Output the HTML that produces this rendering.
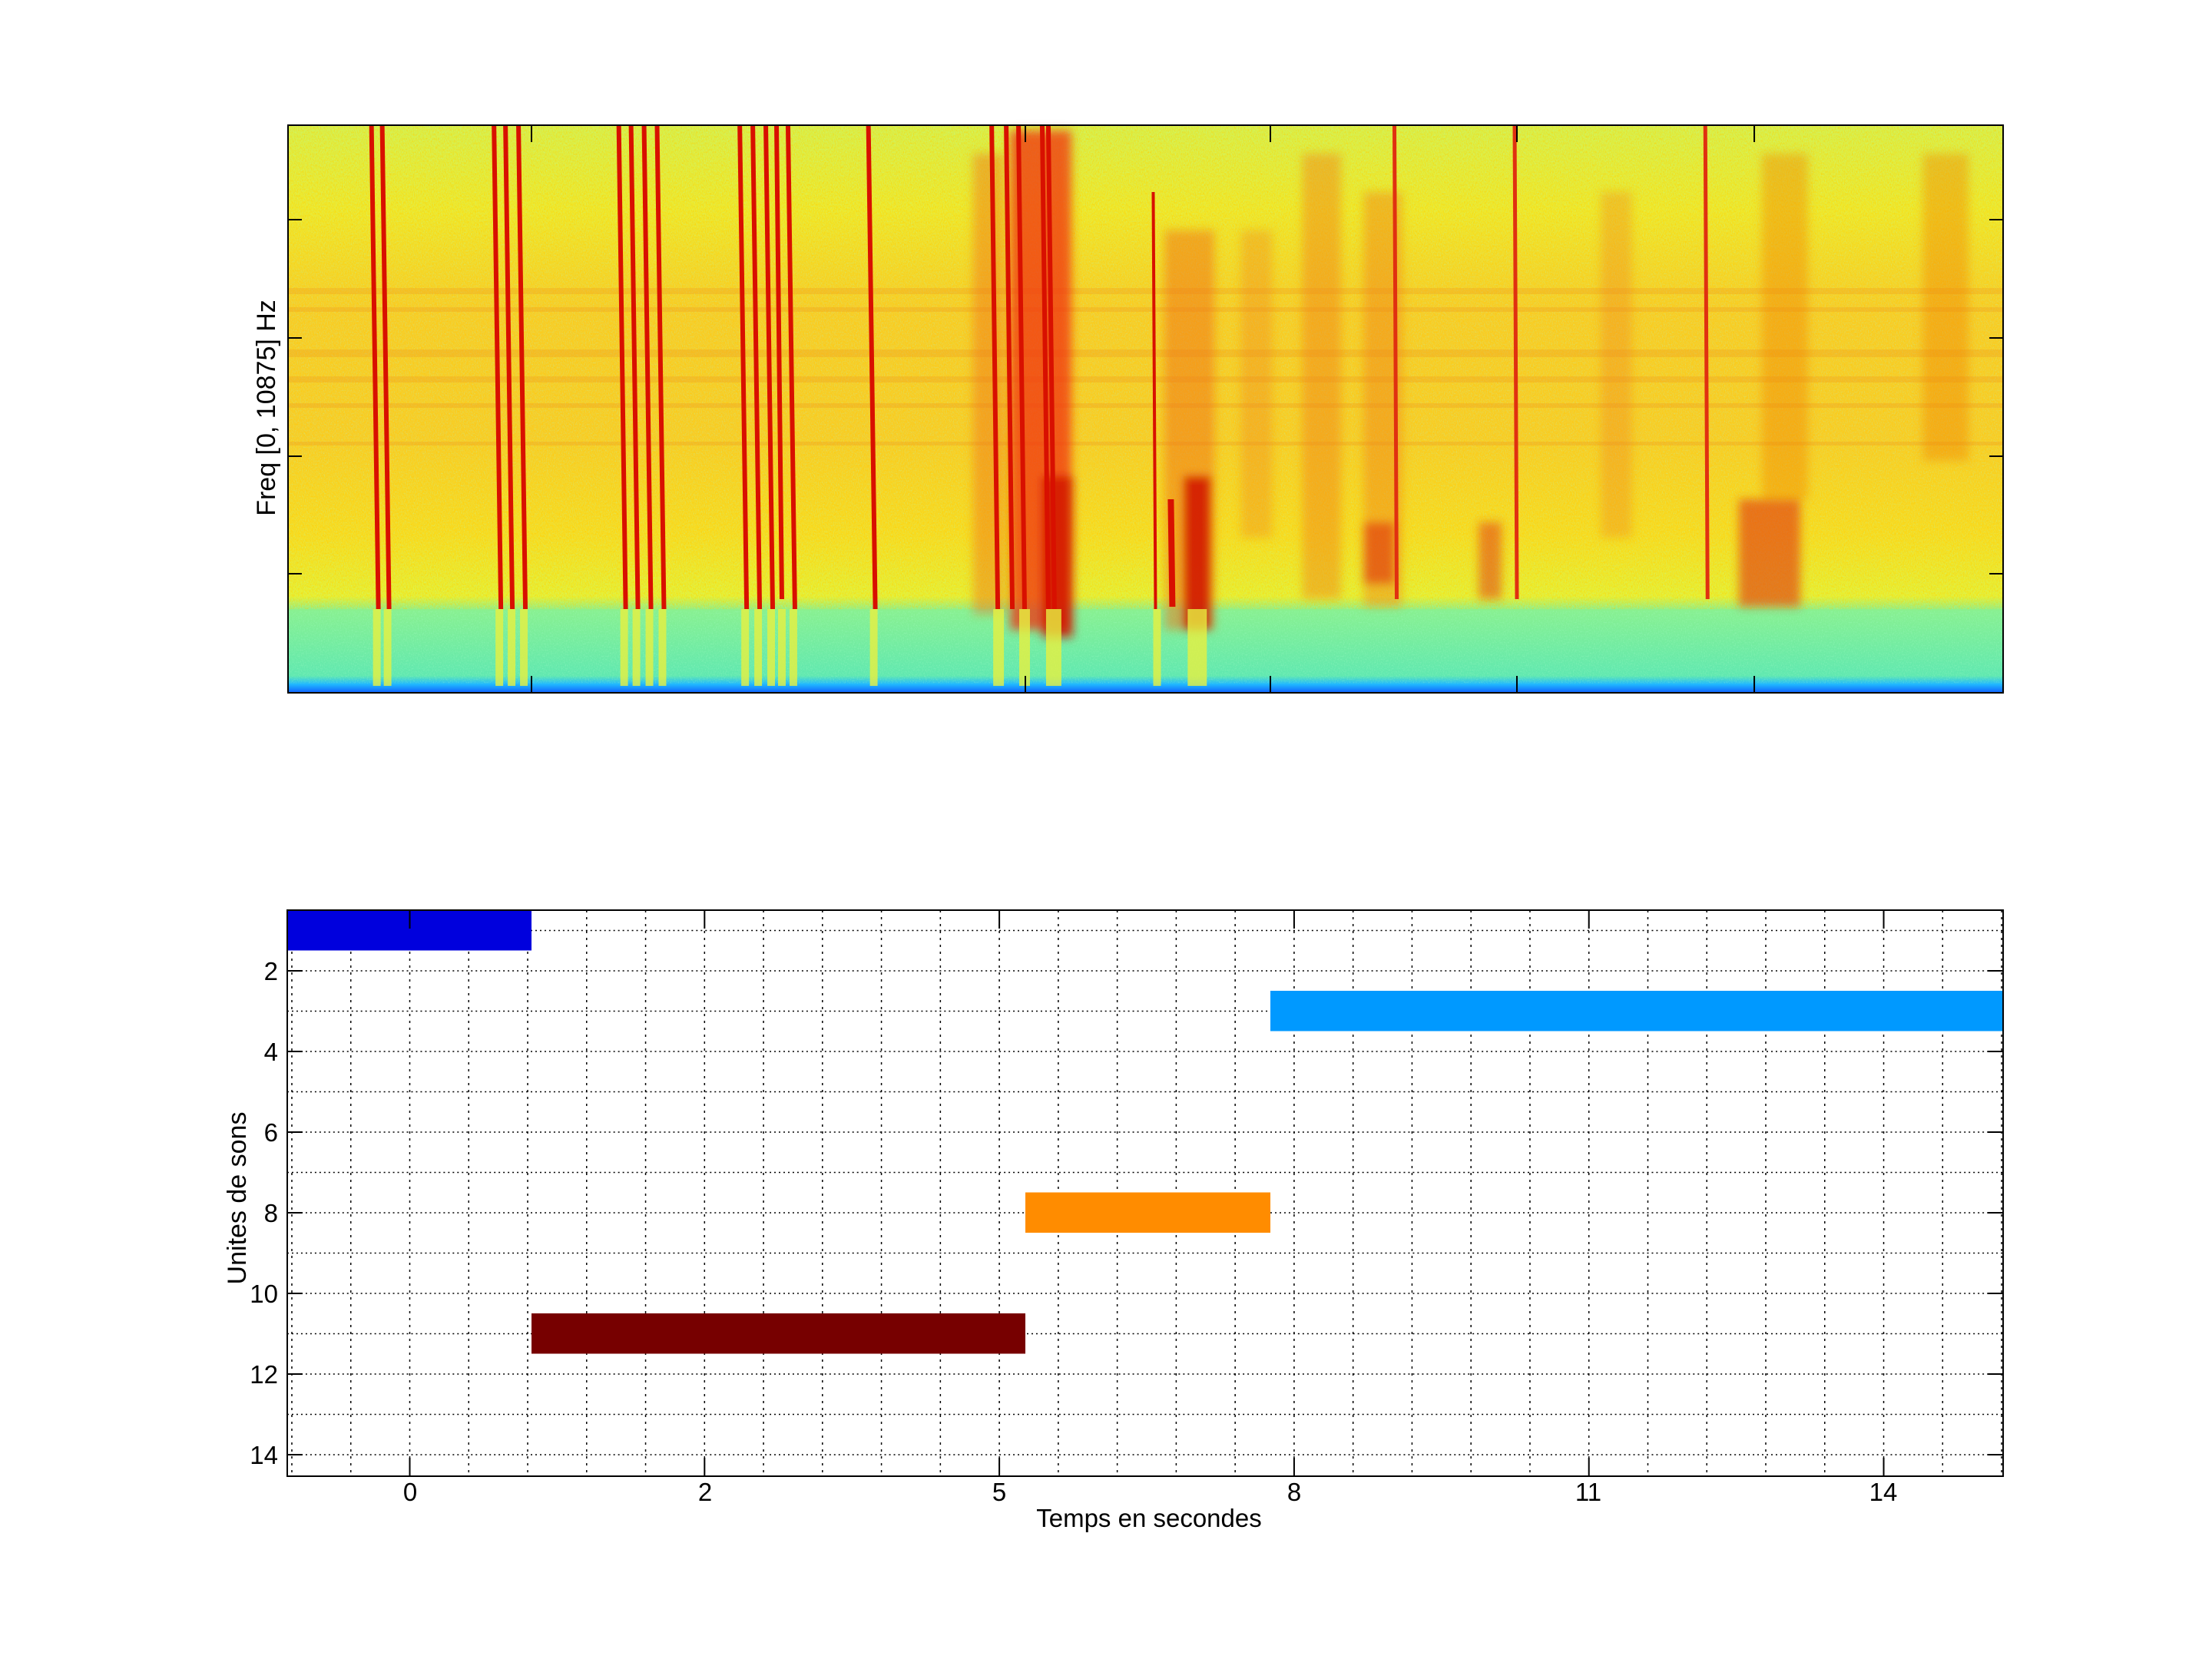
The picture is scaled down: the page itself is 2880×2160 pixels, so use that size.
<!DOCTYPE html>
<html><head><meta charset="utf-8"><style>
html,body{margin:0;padding:0;background:#fff}
svg{display:block}
text{font-family:"Liberation Sans",sans-serif;fill:#000}
</style></head><body>
<svg width="2880" height="2160" viewBox="0 0 2880 2160" xmlns="http://www.w3.org/2000/svg">
<defs>
<linearGradient id="bg" x1="0" y1="0" x2="0" y2="1">
<stop offset="0" stop-color="#d8f048"/>
<stop offset="0.15" stop-color="#f0e828"/>
<stop offset="0.32" stop-color="#f8cc28"/>
<stop offset="0.55" stop-color="#f8cc28"/>
<stop offset="0.72" stop-color="#f8dc20"/>
<stop offset="0.83" stop-color="#e8f030"/>
<stop offset="0.855" stop-color="#88f090"/>
<stop offset="0.97" stop-color="#60e8b0"/>
<stop offset="0.985" stop-color="#20b8ff"/>
<stop offset="1" stop-color="#1060ff"/>
</linearGradient>
<filter id="noise" x="0" y="0" width="100%" height="100%">
<feTurbulence type="fractalNoise" baseFrequency="0.9 0.35" numOctaves="2" seed="3"/>
<feColorMatrix type="matrix" values="0 0 0 0 1  0 0 0 0 0.6  0 0 0 0 0  0 0 0 -3 1.7"/>
</filter>
<filter id="noise2" x="0" y="0" width="100%" height="100%">
<feTurbulence type="fractalNoise" baseFrequency="0.8 0.5" numOctaves="2" seed="9"/>
<feColorMatrix type="matrix" values="0 0 0 0 0.4  0 0 0 0 1  0 0 0 0 0.6  0 0 0 -3 1.6"/>
</filter>
<filter id="blur"><feGaussianBlur stdDeviation="6"/></filter>
</defs>
<g transform="translate(374,0) scale(0.9969,1) translate(-374,0)">
<!-- spectrogram -->
<rect x="375" y="163" width="2240" height="739" fill="url(#bg)"/>
<rect x="375" y="163" width="2240" height="630" filter="url(#noise)" opacity="0.5"/>
<rect x="375" y="163" width="2240" height="630" filter="url(#noise2)" opacity="0.3"/>
<rect x="375" y="795" width="2240" height="95" filter="url(#noise2)" opacity="0.3"/>
<g fill="#f0a020" opacity="0.35">
<rect x="375" y="375" width="2240" height="8"/>
<rect x="375" y="400" width="2240" height="6"/>
<rect x="375" y="455" width="2240" height="10"/>
<rect x="375" y="490" width="2240" height="8"/>
<rect x="375" y="525" width="2240" height="6"/>
<rect x="375" y="575" width="2240" height="5"/>
</g>
<g filter="url(#blur)">
<rect x="1318" y="170" width="80" height="650" fill="#f03010" opacity="0.75"/>
<rect x="1360" y="620" width="40" height="210" fill="#d01000" opacity="0.8"/>
<rect x="1520" y="300" width="65" height="520" fill="#f07010" opacity="0.5"/>
<rect x="1545" y="620" width="35" height="200" fill="#d01000" opacity="0.85"/>
<rect x="1270" y="200" width="40" height="600" fill="#f07010" opacity="0.45"/>
<rect x="1700" y="200" width="50" height="580" fill="#f08010" opacity="0.45"/>
<rect x="1780" y="250" width="50" height="540" fill="#f08010" opacity="0.45"/>
<rect x="1780" y="680" width="40" height="80" fill="#e03010" opacity="0.6"/>
<rect x="1930" y="680" width="30" height="100" fill="#e03010" opacity="0.5"/>
<rect x="2270" y="650" width="80" height="140" fill="#e03010" opacity="0.6"/>
<rect x="2300" y="200" width="60" height="450" fill="#f08010" opacity="0.4"/>
<rect x="2510" y="200" width="60" height="400" fill="#f08010" opacity="0.4"/>
<rect x="1620" y="300" width="40" height="400" fill="#f08010" opacity="0.35"/>
<rect x="2090" y="250" width="40" height="450" fill="#f08010" opacity="0.35"/>
</g>
<g fill="#e8f040" opacity="0.8">
<rect x="486" y="793" width="10" height="100"/><rect x="500" y="793" width="10" height="100"/>
<rect x="646" y="793" width="10" height="100"/><rect x="662" y="793" width="10" height="100"/><rect x="678" y="793" width="10" height="100"/>
<rect x="809" y="793" width="10" height="100"/><rect x="825" y="793" width="10" height="100"/><rect x="842" y="793" width="10" height="100"/><rect x="859" y="793" width="10" height="100"/>
<rect x="967" y="793" width="10" height="100"/><rect x="984" y="793" width="10" height="100"/><rect x="1001" y="793" width="10" height="100"/><rect x="1015" y="793" width="10" height="100"/><rect x="1030" y="793" width="10" height="100"/>
<rect x="1135" y="793" width="10" height="100"/>
<rect x="1296" y="793" width="14" height="100"/><rect x="1330" y="793" width="14" height="100"/><rect x="1365" y="793" width="20" height="100"/>
<rect x="1505" y="793" width="10" height="100"/><rect x="1550" y="793" width="25" height="100"/>
</g>
<g stroke="#d81000" stroke-width="6" fill="none">
<line x1="484" y1="163" x2="493" y2="793"/><line x1="498" y1="163" x2="507" y2="793"/>
<line x1="644" y1="163" x2="653" y2="793"/><line x1="659" y1="163" x2="668" y2="793"/><line x1="676" y1="163" x2="685" y2="793"/>
<line x1="807" y1="163" x2="816" y2="793"/><line x1="823" y1="163" x2="832" y2="793"/><line x1="840" y1="163" x2="849" y2="793"/><line x1="857" y1="163" x2="866" y2="793"/>
<line x1="965" y1="163" x2="974" y2="793"/><line x1="982" y1="163" x2="991" y2="793"/><line x1="999" y1="163" x2="1008" y2="793"/><line x1="1013" y1="163" x2="1020" y2="780"/><line x1="1028" y1="163" x2="1037" y2="793"/>
<line x1="1133" y1="163" x2="1142" y2="793"/>
<line x1="1294" y1="163" x2="1302" y2="793"/><line x1="1313" y1="163" x2="1321" y2="793"/><line x1="1329" y1="163" x2="1337" y2="793"/><line x1="1360" y1="163" x2="1368" y2="793"/><line x1="1368" y1="163" x2="1376" y2="793"/>
<line x1="1505" y1="250" x2="1508" y2="793" stroke-width="4"/><line x1="1528" y1="650" x2="1530" y2="790" stroke-width="8"/>
<line x1="1820" y1="163" x2="1823" y2="780" stroke-width="5" stroke="#e03010"/>
<line x1="1977" y1="163" x2="1980" y2="780" stroke-width="5" stroke="#e03010"/>
<line x1="2226" y1="163" x2="2229" y2="780" stroke-width="5" stroke="#e03010"/>
</g>
<rect x="375" y="163" width="2240" height="739" fill="none" stroke="#000" stroke-width="2"/>
<g stroke="#000" stroke-width="2">
<line x1="375" y1="286" x2="393" y2="286"/><line x1="375" y1="440" x2="393" y2="440"/><line x1="375" y1="594" x2="393" y2="594"/><line x1="375" y1="747" x2="393" y2="747"/>
<line x1="2615" y1="286" x2="2597" y2="286"/><line x1="2615" y1="440" x2="2597" y2="440"/><line x1="2615" y1="594" x2="2597" y2="594"/><line x1="2615" y1="747" x2="2597" y2="747"/>
<line x1="693" y1="163" x2="693" y2="185"/><line x1="1338" y1="163" x2="1338" y2="185"/><line x1="1658" y1="163" x2="1658" y2="185"/><line x1="1980" y1="163" x2="1980" y2="185"/><line x1="2290" y1="163" x2="2290" y2="185"/>
<line x1="693" y1="902" x2="693" y2="880"/><line x1="1338" y1="902" x2="1338" y2="880"/><line x1="1658" y1="902" x2="1658" y2="880"/><line x1="1980" y1="902" x2="1980" y2="880"/><line x1="2290" y1="902" x2="2290" y2="880"/>
</g>

<!-- bottom plot -->
<g fill="none" stroke="#000" stroke-width="1.5" stroke-dasharray="3,6">
<line x1="380" y1="1185" x2="380" y2="1922"/><line x1="457" y1="1185" x2="457" y2="1922"/><line x1="534" y1="1185" x2="534" y2="1922"/>
<line x1="611" y1="1185" x2="611" y2="1922"/><line x1="688" y1="1185" x2="688" y2="1922"/><line x1="765" y1="1185" x2="765" y2="1922"/>
<line x1="842" y1="1185" x2="842" y2="1922"/><line x1="919" y1="1185" x2="919" y2="1922"/><line x1="996" y1="1185" x2="996" y2="1922"/>
<line x1="1073" y1="1185" x2="1073" y2="1922"/><line x1="1150" y1="1185" x2="1150" y2="1922"/><line x1="1227" y1="1185" x2="1227" y2="1922"/>
<line x1="1304" y1="1185" x2="1304" y2="1922"/><line x1="1381" y1="1185" x2="1381" y2="1922"/><line x1="1458" y1="1185" x2="1458" y2="1922"/>
<line x1="1535" y1="1185" x2="1535" y2="1922"/><line x1="1612" y1="1185" x2="1612" y2="1922"/><line x1="1689" y1="1185" x2="1689" y2="1922"/>
<line x1="1766" y1="1185" x2="1766" y2="1922"/><line x1="1843" y1="1185" x2="1843" y2="1922"/><line x1="1920" y1="1185" x2="1920" y2="1922"/>
<line x1="1997" y1="1185" x2="1997" y2="1922"/><line x1="2074" y1="1185" x2="2074" y2="1922"/><line x1="2151" y1="1185" x2="2151" y2="1922"/>
<line x1="2228" y1="1185" x2="2228" y2="1922"/><line x1="2305" y1="1185" x2="2305" y2="1922"/><line x1="2382" y1="1185" x2="2382" y2="1922"/>
<line x1="2459" y1="1185" x2="2459" y2="1922"/><line x1="2536" y1="1185" x2="2536" y2="1922"/><line x1="2613" y1="1185" x2="2613" y2="1922"/>
</g>
<g fill="none" stroke="#000" stroke-width="1.5" stroke-dasharray="2,4">
<line x1="374" y1="1211.5" x2="2615" y2="1211.5"/><line x1="374" y1="1264" x2="2615" y2="1264"/><line x1="374" y1="1316.5" x2="2615" y2="1316.5"/>
<line x1="374" y1="1369" x2="2615" y2="1369"/><line x1="374" y1="1421.5" x2="2615" y2="1421.5"/><line x1="374" y1="1474" x2="2615" y2="1474"/>
<line x1="374" y1="1526.5" x2="2615" y2="1526.5"/><line x1="374" y1="1579" x2="2615" y2="1579"/><line x1="374" y1="1631.5" x2="2615" y2="1631.5"/>
<line x1="374" y1="1684" x2="2615" y2="1684"/><line x1="374" y1="1736.5" x2="2615" y2="1736.5"/><line x1="374" y1="1789" x2="2615" y2="1789"/>
<line x1="374" y1="1841.5" x2="2615" y2="1841.5"/><line x1="374" y1="1894" x2="2615" y2="1894"/>
</g>
<rect x="374" y="1185" width="319" height="52.5" fill="#0000dd"/>
<rect x="1658" y="1290" width="957" height="52.5" fill="#0099ff"/>
<rect x="1338" y="1552.5" width="320" height="52.5" fill="#ff8c00"/>
<rect x="693" y="1710" width="645" height="52.5" fill="#770000"/>
<rect x="374" y="1185" width="2241" height="737" fill="none" stroke="#000" stroke-width="2"/>
<g stroke="#000" stroke-width="2">
<line x1="374" y1="1264" x2="394" y2="1264"/><line x1="374" y1="1369" x2="394" y2="1369"/><line x1="374" y1="1474" x2="394" y2="1474"/>
<line x1="374" y1="1579" x2="394" y2="1579"/><line x1="374" y1="1684" x2="394" y2="1684"/><line x1="374" y1="1789" x2="394" y2="1789"/><line x1="374" y1="1894" x2="394" y2="1894"/>
<line x1="2615" y1="1264" x2="2595" y2="1264"/><line x1="2615" y1="1369" x2="2595" y2="1369"/><line x1="2615" y1="1474" x2="2595" y2="1474"/>
<line x1="2615" y1="1579" x2="2595" y2="1579"/><line x1="2615" y1="1684" x2="2595" y2="1684"/><line x1="2615" y1="1789" x2="2595" y2="1789"/><line x1="2615" y1="1894" x2="2595" y2="1894"/>
<line x1="534" y1="1922" x2="534" y2="1898"/><line x1="919" y1="1922" x2="919" y2="1898"/><line x1="1304" y1="1922" x2="1304" y2="1898"/>
<line x1="1689" y1="1922" x2="1689" y2="1898"/><line x1="2074" y1="1922" x2="2074" y2="1898"/><line x1="2459" y1="1922" x2="2459" y2="1898"/>
<line x1="534" y1="1185" x2="534" y2="1209"/><line x1="919" y1="1185" x2="919" y2="1209"/><line x1="1304" y1="1185" x2="1304" y2="1209"/>
<line x1="1689" y1="1185" x2="1689" y2="1209"/><line x1="2074" y1="1185" x2="2074" y2="1209"/><line x1="2459" y1="1185" x2="2459" y2="1209"/>
</g>
</g>
<text transform="translate(358,531) rotate(-90)" font-size="34" text-anchor="middle">Freq [0, 10875] Hz</text>
<g font-size="33" text-anchor="end">
<text x="362" y="1276">2</text><text x="362" y="1381">4</text><text x="362" y="1486">6</text><text x="362" y="1591">8</text>
<text x="362" y="1696">10</text><text x="362" y="1801">12</text><text x="362" y="1906">14</text>
</g>
<g font-size="33" text-anchor="middle">
<text x="534" y="1954">0</text><text x="918" y="1954">2</text><text x="1301" y="1954">5</text>
<text x="1685" y="1954">8</text><text x="2068" y="1954">11</text><text x="2452" y="1954">14</text>
<text x="1496" y="1988">Temps en secondes</text>
</g>
<text transform="translate(320,1560) rotate(-90)" font-size="34" text-anchor="middle">Unites de sons</text>
</svg>
</body></html>
